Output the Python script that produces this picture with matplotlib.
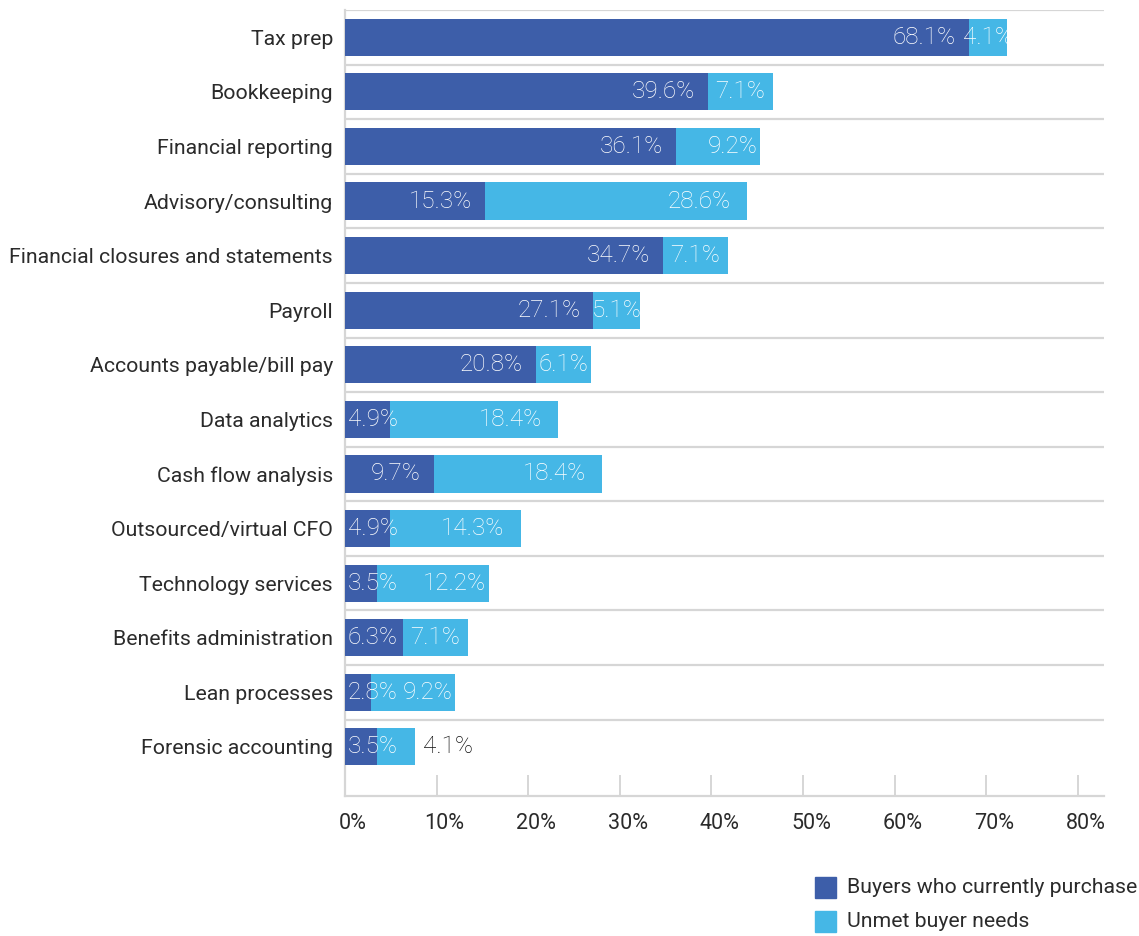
import matplotlib
matplotlib.use("Agg")
import matplotlib.pyplot as plt
from matplotlib.patches import Rectangle
from matplotlib.transforms import ScaledTranslation

categories = [
    "Tax prep", "Bookkeeping", "Financial reporting", "Advisory/consulting",
    "Financial closures and statements", "Payroll", "Accounts payable/bill pay",
    "Data analytics", "Cash flow analysis", "Outsourced/virtual CFO",
    "Technology services", "Benefits administration", "Lean processes",
    "Forensic accounting",
]
current_purchase = [68.1, 39.6, 36.1, 15.3, 34.7, 27.1, 20.8, 4.9, 9.7, 4.9, 3.5, 6.3, 2.8, 3.5]
unmet_needs = [4.1, 7.1, 9.2, 28.6, 7.1, 5.1, 6.1, 18.4, 18.4, 14.3, 12.2, 7.1, 9.2, 4.1]
x_ticks = [0, 10, 20, 30, 40, 50, 60, 70, 80]
series_names = ["Buyers who currently purchase", "Unmet buyer needs"]

DARK = "#3D5EA9"
LIGHT = "#45B7E6"
GRID = "#D6D6D6"
TEXT = "#2B2B2B"

plt.rcParams["font.family"] = ["Roboto", "DejaVu Sans"]

W, H = 1139, 936
fig = plt.figure(figsize=(W / 100, H / 100), dpi=100)
ax = fig.add_axes([345 / W, 1 - 796 / H, (1104 - 345) / W, (796 - 10) / H])

ypos = list(range(len(categories)))
ax.barh(ypos, current_purchase, height=0.68, color=DARK, zorder=3)
ax.barh(ypos, unmet_needs, left=current_purchase, height=0.68, color=LIGHT, zorder=3)

ax.set_xlim(0, 82.84)
ax.set_ylim(13.9, -0.5)

# row separators
for i in range(len(categories)):
    ax.axhline(i - 0.5, color=GRID, lw=1.6, zorder=1)

# value labels
val_kw = dict(va="center", fontsize=17.5, fontweight="light", zorder=4)
for i, (c, u) in enumerate(zip(current_purchase, unmet_needs)):
    total = c + u
    if c < 7:
        ax.text(0.3, i, f"{c}%", ha="left", color="white", **val_kw)
    else:
        ax.text(c - 1.4, i, f"{c}%", ha="right", color="white", **val_kw)
    if total < 10:
        ax.text(total + 0.9, i, f"{u}%", ha="left", color="#111111", **val_kw)
    elif u < 8:
        ax.text(c + u / 2, i, f"{u}%", ha="center", color="white", **val_kw)
    elif u < 13:
        ax.text(total - 0.3, i, f"{u}%", ha="right", color="white", **val_kw)
    else:
        ax.text(total - 1.8, i, f"{u}%", ha="right", color="white", **val_kw)

ax.set_yticks(ypos)
ax.set_yticklabels(categories, fontsize=15.3, color=TEXT)
ax.tick_params(axis="y", length=0, pad=8.6)

ax.set_xticks(x_ticks)
ax.set_xticklabels([f"{t}%" for t in x_ticks], fontsize=15.5, color=TEXT)
ax.tick_params(axis="x", direction="in", length=15, width=1.4, color=GRID, pad=12.5)
shift = ScaledTranslation(8 / 100, 0, fig.dpi_scale_trans)
for lab in ax.get_xticklabels():
    lab.set_transform(lab.get_transform() + shift)

for side in ("top", "right"):
    ax.spines[side].set_visible(False)
for side in ("left", "bottom"):
    ax.spines[side].set_color(GRID)
    ax.spines[side].set_linewidth(1.6)

# legend
colors = [DARK, LIGHT]
rows_y = [887.5, 921.5]
for name, col, yc in zip(series_names, colors, rows_y):
    fig.add_artist(Rectangle((815 / W, 1 - (yc + 10.5) / H), 21 / W, 21 / H,
                             transform=fig.transFigure, color=col))
    fig.text(847 / W, 1 - yc / H, name, ha="left", va="center",
             fontsize=15.3, color=TEXT)

fig.savefig("out.png", dpi=100, facecolor="white")
